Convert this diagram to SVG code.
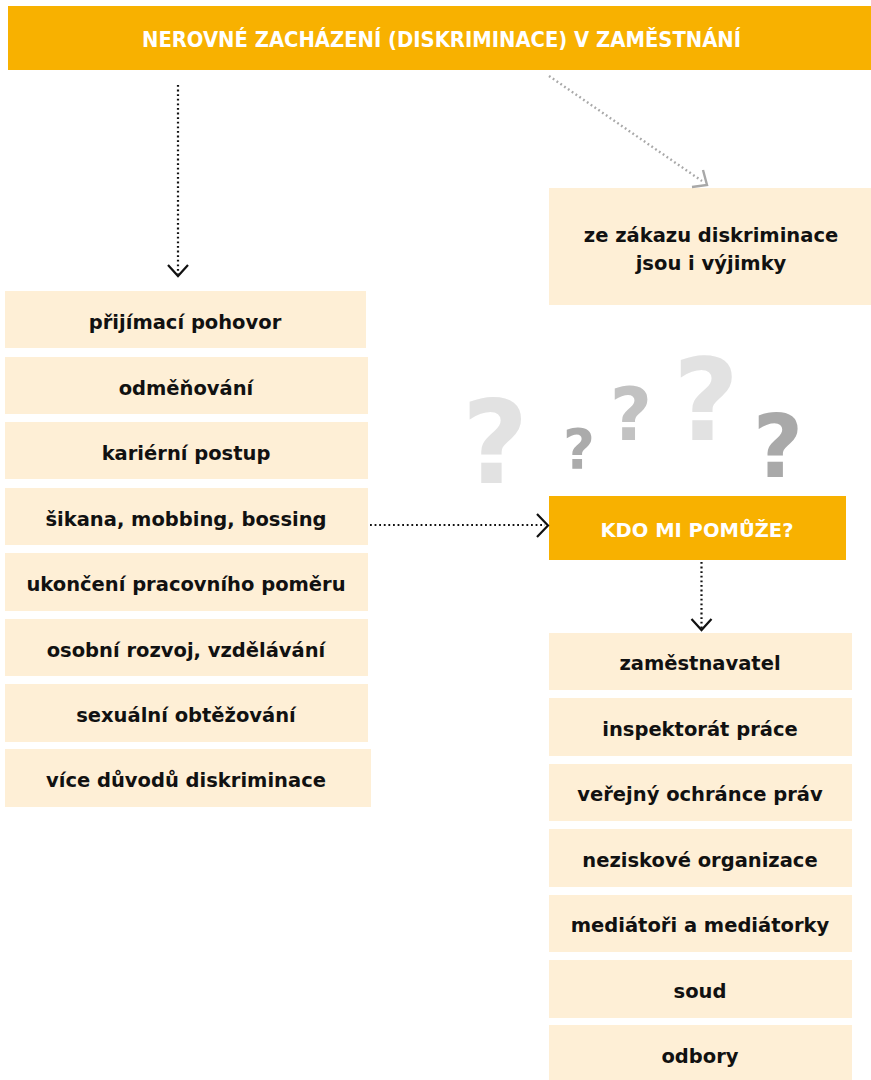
<svg xmlns="http://www.w3.org/2000/svg" width="871" height="1080" viewBox="0 0 871 1080">
<style>
.hdr{fill:#F8B100}
.box{fill:#FEEFD6}
.lbl{font-family:"DejaVu Sans","Liberation Sans",sans-serif;font-weight:bold;font-size:19.5px;fill:#111;text-anchor:middle}
.wlbl{font-family:"DejaVu Sans","Liberation Sans",sans-serif;font-weight:bold;font-size:19.5px;fill:#fff;text-anchor:middle}
.q{font-family:"DejaVu Sans","Liberation Sans",sans-serif;font-weight:bold;text-anchor:middle}
.dot{fill:none;stroke:#111;stroke-width:2.2;stroke-dasharray:1.8 2.8;}
.dotg{fill:none;stroke:#a8a8a8;stroke-width:2.4;stroke-dasharray:1.8 2.8;}
.head{fill:none;stroke:#111;stroke-width:2.2}
.headg{fill:none;stroke:#a8a8a8;stroke-width:2.4}
</style>
<rect width="871" height="1080" fill="#fff"/>

<g id="title">
<rect class="hdr" x="8" y="6" width="863" height="64"/>
<text x="441.5" y="47" font-family="DejaVu Sans Condensed,DejaVu Sans,sans-serif" font-weight="bold" font-size="20.5" fill="#fff" text-anchor="middle" textLength="599" lengthAdjust="spacingAndGlyphs">NEROVNÉ ZACHÁZENÍ (DISKRIMINACE) V ZAMĚSTNÁNÍ</text>
</g>

<g id="exceptions">
<rect class="box" x="549" y="188" width="322" height="117"/>
<text class="lbl" x="711" y="242">ze zákazu diskriminace</text>
<text class="lbl" x="711" y="270">jsou i výjimky</text>
</g>

<g id="questionmarks">
<text class="q" x="495" y="483" font-size="115" fill="#e2e2e2">?</text>
<text class="q" x="579" y="468" font-size="55" fill="#ababab">?</text>
<text class="q" x="631" y="440" font-size="73" fill="#c2c2c2">?</text>
<text class="q" x="706" y="440" font-size="114" fill="#e2e2e2">?</text>
<text class="q" x="778" y="477" font-size="87" fill="#a9a9a9">?</text>
</g>

<g id="left-1"><rect class="box" x="5" y="291" width="361" height="57"/><text class="lbl" x="185" y="329">přijímací pohovor</text></g>
<g id="left-2"><rect class="box" x="5" y="357" width="363" height="57"/><text class="lbl" x="186" y="395">odměňování</text></g>
<g id="left-3"><rect class="box" x="5" y="422" width="363" height="57"/><text class="lbl" x="186" y="460">kariérní postup</text></g>
<g id="left-4"><rect class="box" x="5" y="488" width="363" height="57"/><text class="lbl" x="186" y="526">šikana, mobbing, bossing</text></g>
<g id="left-5"><rect class="box" x="5" y="553" width="363" height="58"/><text class="lbl" x="186" y="591">ukončení pracovního poměru</text></g>
<g id="left-6"><rect class="box" x="5" y="619" width="363" height="57"/><text class="lbl" x="186" y="657">osobní rozvoj, vzdělávání</text></g>
<g id="left-7"><rect class="box" x="5" y="684" width="363" height="58"/><text class="lbl" x="186" y="722">sexuální obtěžování</text></g>
<g id="left-8"><rect class="box" x="5" y="749" width="366" height="58"/><text class="lbl" x="186" y="787">více důvodů diskriminace</text></g>

<g id="help">
<rect class="hdr" x="549" y="496" width="297" height="64"/>
<text class="wlbl" x="697" y="537">KDO MI POMŮŽE?</text>
</g>

<g id="right-1"><rect class="box" x="549" y="633" width="303" height="57"/><text class="lbl" x="700" y="670">zaměstnavatel</text></g>
<g id="right-2"><rect class="box" x="549" y="698" width="303" height="58"/><text class="lbl" x="700" y="736">inspektorát práce</text></g>
<g id="right-3"><rect class="box" x="549" y="764" width="303" height="57"/><text class="lbl" x="700" y="801">veřejný ochránce práv</text></g>
<g id="right-4"><rect class="box" x="549" y="829" width="303" height="58"/><text class="lbl" x="700" y="867">neziskové organizace</text></g>
<g id="right-5"><rect class="box" x="549" y="895" width="303" height="57"/><text class="lbl" x="700" y="932">mediátoři a mediátorky</text></g>
<g id="right-6"><rect class="box" x="549" y="960" width="303" height="58"/><text class="lbl" x="700" y="998">soud</text></g>
<g id="right-7"><rect class="box" x="549" y="1025" width="303" height="55"/><text class="lbl" x="700" y="1063">odbory</text></g>

<g id="connectors">
<path class="dot" d="M178 85 V274"/>
<path class="head" d="M168 265 L178 276 L188 265"/>
<path class="dotg" d="M549 76 L702 181"/>
<path class="headg" d="M703 170 L707 185 L692 187"/>
<path class="dot" d="M370 525 H545"/>
<path class="head" d="M537 514 L548 525.5 L537 537"/>
<path class="dot" d="M701.5 562 V628"/>
<path class="head" d="M691.5 619 L701.5 630 L711.5 619"/>
</g>
</svg>
